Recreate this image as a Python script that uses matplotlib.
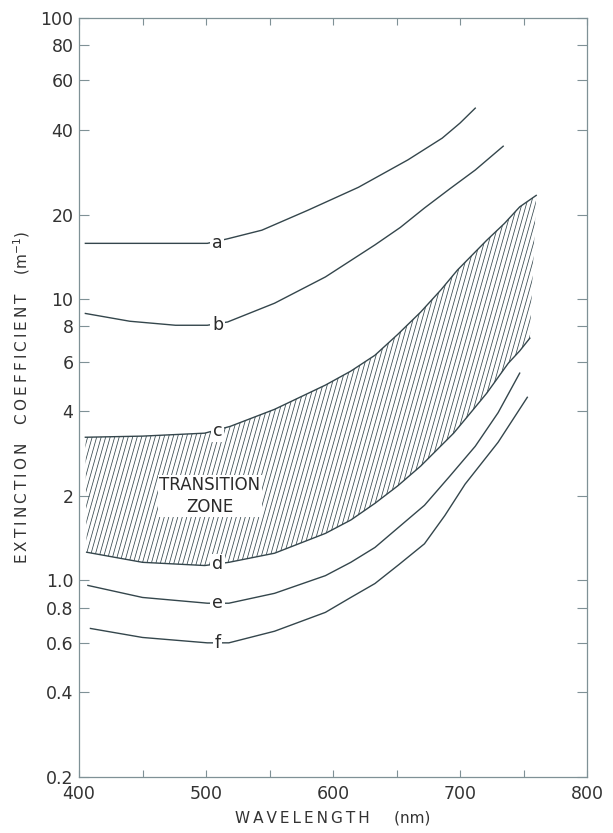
"""
Extinction coefficient versus wavelength, curves a to f with the transition zone
"""

import numpy as np
import matplotlib.pyplot as plt
from matplotlib.collections import LineCollection

plt.rcParams['font.family'] = ['DejaVu Sans']

# wavelength (nm) and extinction coefficient (1/m) read for each curve
wl_a = [405, 501, 517, 544, 580, 620, 659, 686, 700, 712]
ext_a = [15.8, 15.8, 16.4, 17.6, 20.7, 25.0, 31.3, 37.4, 42.3, 47.8]

wl_b = [405, 440, 476, 501, 517, 554, 594, 633, 653, 672, 692, 712, 734]
ext_b = [8.9, 8.35, 8.08, 8.08, 8.3, 9.68, 12.0, 15.6, 18.0, 21.1, 24.7, 28.8, 35.0]

wl_c = [405, 450, 499, 519, 554, 594, 614, 633, 651, 669, 685, 698, 721, 735, 747, 760]
ext_c = [3.23, 3.26, 3.34, 3.53, 4.06, 4.95, 5.55, 6.32, 7.5, 9.0, 10.8, 12.7, 16.2,
         18.6, 21.3, 23.4]

wl_d = [406, 450, 499, 518, 554, 594, 614, 633, 651, 669, 695, 708, 721, 738, 747, 755]
ext_d = [1.26, 1.16, 1.13, 1.16, 1.25, 1.47, 1.64, 1.88, 2.17, 2.55, 3.34, 3.93, 4.63,
         5.92, 6.55, 7.27]

wl_e = [407, 450, 501, 518, 554, 594, 614, 633, 652, 672, 692, 712, 730, 747]
ext_e = [0.96, 0.87, 0.83, 0.83, 0.90, 1.04, 1.16, 1.31, 1.55, 1.85, 2.35, 3.0, 3.95, 5.46]

wl_f = [409, 450, 501, 518, 554, 594, 614, 633, 652, 672, 688, 704, 730, 753]
ext_f = [0.675, 0.627, 0.60, 0.60, 0.66, 0.77, 0.87, 0.975, 1.14, 1.35, 1.7, 2.2, 3.1, 4.48]

curve_names = ['a', 'b', 'c', 'd', 'e', 'f']
label_wl = 509
label_ext = [15.9, 8.1, 3.4, 1.14, 0.83, 0.60]

yticks = [0.2, 0.4, 0.6, 0.8, 1.0, 2, 4, 6, 8, 10, 20, 40, 60, 80, 100]
ytick_labels = ['0.2', '0.4', '0.6', '0.8', '1.0', '2', '4', '6', '8', '10',
                '20', '40', '60', '80', '100']
xticks = [400, 450, 500, 550, 600, 650, 700, 750, 800]
xtick_labels = ['400', '', '500', '', '600', '', '700', '', '800']

ink = '#34464c'
grey = '#7f9196'
text_col = '#333333'


def spaced(word):
    # wide letter spacing like the lettering on the original drawing
    return '\u2009'.join(word)


fig = plt.figure(figsize=(6.13, 8.33), dpi=100)
ax = fig.add_axes([0.1289, 0.0672, 0.8287, 0.9112])

# the six curves
all_wl = [wl_a, wl_b, wl_c, wl_d, wl_e, wl_f]
all_ext = [ext_a, ext_b, ext_c, ext_d, ext_e, ext_f]
for w, e in zip(all_wl, all_ext):
    ax.plot(w, e, color=ink, lw=1.0)

# transition zone between c and d, hatched with steep lines
zone = ax.fill(np.r_[wl_c, wl_d[::-1]], np.r_[ext_c, ext_d[::-1]],
               facecolor='none', edgecolor='none')[0]
slant = 0.28 * 759 / 508         # horizontal travel of one hatch line in axes units
starts = np.arange(-slant, 1.0, 4.5 / 508)
segs = [[(s, 0), (s + slant, 1)] for s in starts]
hatch = LineCollection(segs, colors=ink, linewidths=0.55, transform=ax.transAxes)
hatch.set_clip_path(zone)
ax.add_collection(hatch)

# curve letters
for name, val in zip(curve_names, label_ext):
    ax.text(label_wl, val, name, ha='center', va='center', fontsize=12.5,
            color='#2a2a2a',
            bbox=dict(facecolor='white', edgecolor='none', pad=1.2))

ax.text(503, 2.0, 'TRANSITION\nZONE', ha='center', va='center',
        fontsize=12, color='#2a2a2a', linespacing=1.25,
        bbox=dict(facecolor='white', edgecolor='none', pad=1.0))

# axes
ax.set_yscale('log')
ax.set_xlim(400, 800)
ax.set_ylim(0.2, 100)
ax.set_yticks(yticks)
ax.set_yticklabels(ytick_labels)
ax.minorticks_off()
ax.set_xticks(xticks)
ax.set_xticklabels(xtick_labels)

ax.tick_params(direction='in', length=7, width=0.8, color=grey,
               labelsize=12.5, labelcolor=text_col, top=True, right=True, pad=4)
ax.tick_params(axis='x', length=5, pad=6)
for sp in ax.spines.values():
    sp.set_color(grey)
    sp.set_linewidth(0.9)

ax.set_xlabel(spaced('WAVELENGTH') + '     (nm)', fontsize=11, color=text_col,
              labelpad=5)
ax.set_ylabel(spaced('EXTINCTION') + '    ' + spaced('COEFFICIENT') + '    (m$^{-1}$)',
              fontsize=11, color=text_col, labelpad=6)

plt.savefig('out.png', dpi=100)
